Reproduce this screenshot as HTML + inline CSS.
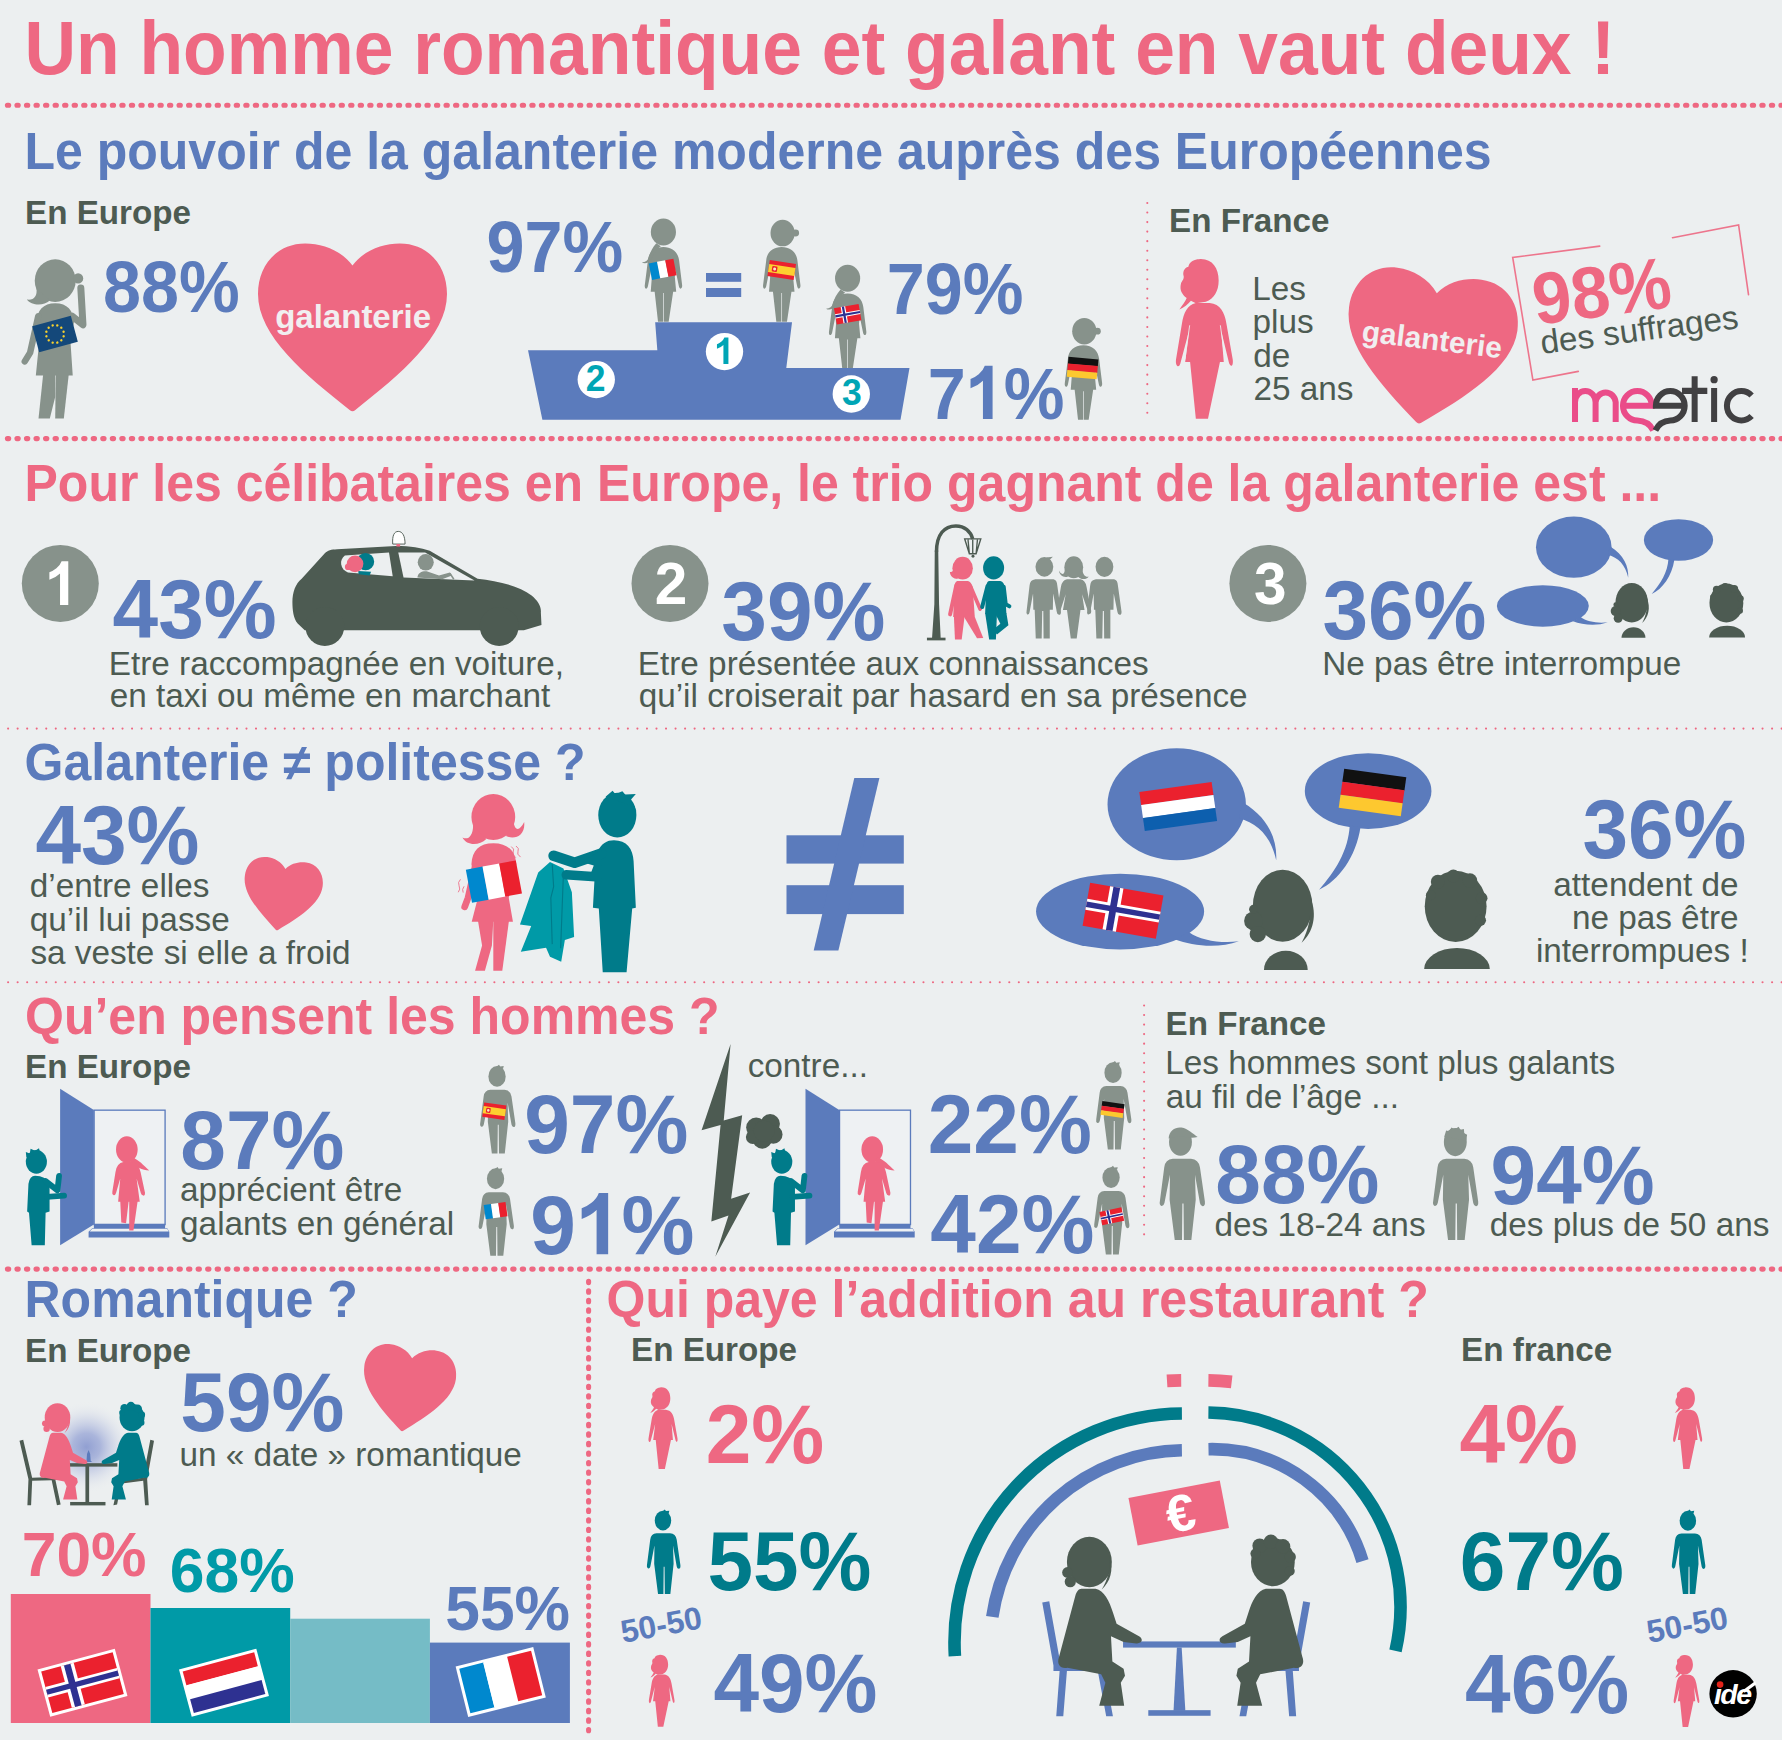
<!DOCTYPE html>
<html><head><meta charset="utf-8"><title>Un homme romantique et galant en vaut deux</title>
<style>
html,body{margin:0;padding:0;}
body{width:1782px;height:1740px;background:#eceff0;position:relative;overflow:hidden;font-family:"Liberation Sans",sans-serif;}
.t{position:absolute;line-height:1;white-space:nowrap;font-family:"Liberation Sans",sans-serif;}
svg.bg{position:absolute;left:0;top:0;}
</style></head><body>
<svg class="bg" width="1782" height="1740" viewBox="0 0 1782 1740">
<line x1="7.4" y1="105.3" x2="1790" y2="105.3" stroke="#ee6882" stroke-width="5.1" stroke-linecap="round" stroke-dasharray="1.3 8.235"/>
<line x1="7.4" y1="438.6" x2="1790" y2="438.6" stroke="#ee6882" stroke-width="5.1" stroke-linecap="round" stroke-dasharray="1.3 8.235"/>
<line x1="7.4" y1="1269.1" x2="1790" y2="1269.1" stroke="#ee6882" stroke-width="5.1" stroke-linecap="round" stroke-dasharray="1.3 8.235"/>
<line x1="8.1" y1="728.6" x2="1790" y2="728.6" stroke="#ee6882" stroke-width="2.1" stroke-linecap="round" stroke-dasharray="0.01 9.525"/>
<line x1="8.1" y1="982.3" x2="1790" y2="982.3" stroke="#ee6882" stroke-width="2.1" stroke-linecap="round" stroke-dasharray="0.01 9.525"/>
<line x1="1147.3" y1="203" x2="1147.3" y2="413.5" stroke="#ee6882" stroke-width="2.1" stroke-linecap="round" stroke-dasharray="0.01 9.525"/>
<line x1="1144.1" y1="1005.5" x2="1144.1" y2="1239" stroke="#ee6882" stroke-width="2.1" stroke-linecap="round" stroke-dasharray="0.01 9.525"/>
<line x1="588.6" y1="1281.3" x2="588.6" y2="1732" stroke="#ee6882" stroke-width="5.1" stroke-linecap="round" stroke-dasharray="1.3 8.235"/>
<rect x="10.8" y="1594" width="139.7" height="129" fill="#ee6882"/>
<rect x="150.5" y="1608" width="139.7" height="115" fill="#009aa7"/>
<rect x="290.2" y="1618.7" width="139.7" height="104.3" fill="#75bcc6"/>
<rect x="429.9" y="1642.6" width="140" height="80.4" fill="#5b7bbc"/>
<defs><g id="wA" transform="translate(-298,-995)"><ellipse cx="298" cy="195" rx="112" ry="120"/><path d="M 298,330 C 380,330 430,380 438,450 L 465,670 C 468,705 443,712 436,680 L 405,530 L 400,600 L 412,728 L 385,728 L 345,995 L 301,995 L 301,740 L 295,740 L 295,995 L 250,995 L 220,728 L 185,728 L 195,600 L 190,530 L 160,680 C 152,712 128,705 132,670 L 160,450 C 165,380 215,330 298,330 Z"/><path d="M 235,295 C 200,335 180,375 168,420 C 158,450 140,462 106,466 C 130,482 172,472 188,440 C 204,400 235,352 275,322 Z"/></g><g id="wB" transform="translate(-298,-995)"><ellipse cx="306" cy="205" rx="108" ry="118"/><circle cx="422" cy="205" r="31"/><path d="M 298,330 C 380,330 430,380 438,450 L 465,670 C 468,705 443,712 436,680 L 405,530 L 400,600 L 412,728 L 385,728 L 345,995 L 301,995 L 301,740 L 295,740 L 295,995 L 250,995 L 220,728 L 185,728 L 195,600 L 190,530 L 160,680 C 152,712 128,705 132,670 L 160,450 C 165,380 215,330 298,330 Z"/></g><g id="talk" transform="translate(1020,740) scale(0.29180)">
<g fill="#5b7bbc"><ellipse cx="537" cy="220" rx="237" ry="192"/><path d="M 765,215 C 850,265 882,340 878,412 C 860,330 815,285 750,268 Z"/>
<ellipse cx="1193" cy="175" rx="217" ry="130"/><path d="M 1167,298 C 1152,400 1092,482 1025,513 C 1080,450 1125,380 1130,293 Z"/>
<ellipse cx="343" cy="588" rx="288" ry="130"/><path d="M 578,658 C 620,688 690,698 750,690 C 680,716 590,706 532,684 Z"/></g>
<g fill="#4d5b52"><ellipse cx="900" cy="568" rx="102" ry="123"/><circle cx="800" cy="620" r="32"/><circle cx="815" cy="665" r="28"/><circle cx="800" cy="580" r="15"/>
<path d="M 995,540 C 1020,600 1005,660 965,695 C 990,650 1000,600 995,540 Z" /><path d="M 836,788 A 75,66 0 0 1 986,788 Z"/>
<ellipse cx="1493" cy="570" rx="106" ry="122"/><circle cx="1432" cy="486" r="24"/><circle cx="1485" cy="466" r="22"/><circle cx="1542" cy="482" r="25"/><circle cx="1582" cy="542" r="20"/><circle cx="1578" cy="618" r="19"/><circle cx="1408" cy="532" r="17"/>
<path d="M 1385,785 A 112,72 0 0 1 1610,785 Z"/></g></g><g id="man" transform="translate(-168,-682)"><ellipse cx="165" cy="165" rx="58" ry="70"/><path d="M 160,100 L 178,86 L 186,98 L 210,95 L 205,115 Z"/><path d="M 120,255 L 215,255 Q 255,258 262,300 L 288,480 Q 290,505 276,505 Q 265,503 262,488 L 236,340 L 240,470 L 217,682 L 178,682 L 176,490 L 170,490 L 168,682 L 130,682 L 103,470 L 105,340 L 76,488 Q 72,505 60,503 Q 48,498 52,478 L 75,300 Q 80,258 120,255 Z"/></g><g id="mancap" transform="translate(-168,-682)"><ellipse cx="160" cy="168" rx="60" ry="72"/><path d="M 98,150 C 100,105 135,88 165,92 C 200,98 225,125 250,142 C 215,150 180,140 150,138 Z"/><path d="M 120,255 L 215,255 Q 255,258 262,300 L 288,480 Q 290,505 276,505 Q 265,503 262,488 L 236,340 L 240,470 L 217,682 L 178,682 L 176,490 L 170,490 L 168,682 L 130,682 L 103,470 L 105,340 L 76,488 Q 72,505 60,503 Q 48,498 52,478 L 75,300 Q 80,258 120,255 Z"/></g><g id="manold" transform="translate(-168,-682)"><ellipse cx="168" cy="168" rx="60" ry="74"/><path d="M 110,140 L 120,108 L 135,112 L 148,92 L 165,102 L 185,88 L 195,104 L 213,100 L 215,122 L 230,130 L 225,160 Z"/><path d="M 120,255 L 215,255 Q 255,258 262,300 L 288,480 Q 290,505 276,505 Q 265,503 262,488 L 236,340 L 240,470 L 217,682 L 178,682 L 176,490 L 170,490 L 168,682 L 130,682 L 103,470 L 105,340 L 76,488 Q 72,505 60,503 Q 48,498 52,478 L 75,300 Q 80,258 120,255 Z"/></g><g id="door" transform="translate(10,1040) scale(0.26375)">
<rect x="319" y="266" width="269" height="434" fill="#eef1f3" stroke="#5b7bbc" stroke-width="5"/>
<path fill="#5b7bbc" d="M 190,185 L 318,265 L 318,700 L 190,778 Z"/>
<path fill="#5b7bbc" d="M 318,697 L 588,697 L 588,714 L 318,714 Z M 312,714 L 596,714 L 604,727 L 604,749 L 298,749 L 298,727 Z"/>
<path fill="#eef1f3" d="M 312,716 L 596,716 L 602,726 L 302,726 Z"/>
<g fill="#007b8a" stroke="#007b8a" stroke-linecap="round" stroke-linejoin="round">
<ellipse cx="100" cy="462" rx="40" ry="45" stroke="none"/><path stroke="none" d="M 62,445 L 60,425 L 75,430 L 78,412 L 95,420 L 110,410 L 115,430 Z"/>
<path stroke="none" d="M 95,515 Q 135,515 150,545 L 150,650 L 135,655 L 132,778 L 82,778 L 72,655 L 65,650 L 70,545 Q 75,515 95,515 Z"/>
<path fill="none" stroke-width="22" d="M 135,535 L 180,570 L 186,515"/><path fill="none" stroke-width="22" d="M 140,595 L 205,590"/>
</g>
<g fill="#ee6882" stroke="#ee6882" stroke-linecap="round" stroke-linejoin="round">
<ellipse cx="443" cy="415" rx="41" ry="50" stroke="none"/>
<path stroke="none" d="M 462,445 C 490,455 505,475 528,495 C 500,495 480,480 455,462 Z"/>
<path stroke="none" d="M 430,463 L 462,463 Q 488,468 495,500 L 512,580 Q 512,592 505,590 Q 498,588 496,580 L 480,525 L 492,613 L 410,613 L 418,525 L 402,580 Q 398,592 392,588 Q 386,584 388,575 L 400,500 Q 405,468 430,463 Z"/>
<path stroke="none" d="M 418,610 L 450,610 L 440,695 L 422,692 Z M 452,610 L 484,610 L 468,722 L 452,722 Z"/>
</g></g><radialGradient id="glow"><stop offset="0" stop-color="#8c9bd0" stop-opacity="0.95"/><stop offset="0.3" stop-color="#9aa7d6" stop-opacity="0.8"/><stop offset="0.6" stop-color="#b8c1e0" stop-opacity="0.45"/><stop offset="1" stop-color="#eceff0" stop-opacity="0"/></radialGradient><g id="pw" transform="translate(-120,-90)"><path d="M 230,90 C 290,85 322,130 322,190 C 322,240 300,275 262,290 L 215,297 L 192,285 C 178,302 160,316 138,326 C 152,305 165,290 172,272 C 150,255 138,235 145,205 C 150,190 160,185 158,170 C 152,150 160,130 180,125 C 185,100 210,90 230,90 Z"/>
<path d="M 215,295 L 280,295 C 330,300 350,340 358,390 L 388,560 C 392,592 378,600 370,575 L 334,425 L 346,572 L 328,572 L 272,838 L 215,838 L 188,572 L 165,572 L 183,425 L 142,580 C 135,602 118,592 122,560 L 150,390 C 158,340 175,305 215,295 Z"/></g></defs>
<path fill="#5b7bbc" transform="translate(965.74,419) scale(0.06830,-0.07240)" d="M 393,0 H 252 V 530 Q 175,458 70,423 V 551 Q 125,569 190,619 Q 255,669 279,736 H 393 Z"/>
<path fill="#5b7bbc" transform="translate(575.93,1254.2) scale(0.08200,-0.08323)" d="M 393,0 H 252 V 530 Q 175,458 70,423 V 551 Q 125,569 190,619 Q 255,669 279,736 H 393 Z"/>
<g transform="translate(0,230) scale(0.26936)" fill="#87928b" stroke="#87928b" stroke-linecap="round" stroke-linejoin="round">
<ellipse cx="205" cy="188" rx="76" ry="79" stroke="none"/>
<circle cx="290" cy="180" r="19" stroke="none"/>
<path stroke="none" d="M 135,215 C 140,245 125,262 100,258 C 115,280 160,285 185,262 Z"/>
<path stroke="none" d="M 205,272 C 250,272 272,300 275,340 L 262,420 L 270,540 L 133,540 L 145,420 L 135,340 C 138,300 160,272 205,272 Z"/>
<path fill="none" stroke-width="26" d="M 268,320 L 308,352 L 300,215"/>
<path fill="none" stroke-width="24" d="M 142,320 L 112,455 L 92,488"/>
<path stroke="none" d="M 160,538 L 205,538 L 205,620 L 185,700 L 143,700 Z"/>
<path stroke="none" d="M 207,538 L 255,538 L 237,700 L 205,700 Z"/>
</g>
<g transform="translate(55,334) rotate(-15)"><rect x="-20.0" y="-13.5" width="40" height="27" fill="#14487a"/><circle cx="0.00" cy="-8.91" r="1.21" fill="#f8d12e"/><circle cx="4.45" cy="-7.72" r="1.21" fill="#f8d12e"/><circle cx="7.72" cy="-4.46" r="1.21" fill="#f8d12e"/><circle cx="8.91" cy="-0.00" r="1.21" fill="#f8d12e"/><circle cx="7.72" cy="4.45" r="1.21" fill="#f8d12e"/><circle cx="4.45" cy="7.72" r="1.21" fill="#f8d12e"/><circle cx="0.00" cy="8.91" r="1.21" fill="#f8d12e"/><circle cx="-4.46" cy="7.72" r="1.21" fill="#f8d12e"/><circle cx="-7.72" cy="4.46" r="1.21" fill="#f8d12e"/><circle cx="-8.91" cy="0.00" r="1.21" fill="#f8d12e"/><circle cx="-7.72" cy="-4.46" r="1.21" fill="#f8d12e"/><circle cx="-4.46" cy="-7.72" r="1.21" fill="#f8d12e"/></g>
<path transform="translate(258,243.5) rotate(0 94.5 84.25) scale(189,168.5)" d="M .5,.13 C .56,.04 .66,0 .75,0 C .9,0 1,.13 1,.3 C 1,.55 .75,.78 .515,.988 Q .5,1.002 .485,.988 C .25,.78 0,.55 0,.3 C 0,.13 .1,0 .25,0 C .34,0 .44,.04 .5,.13 Z" fill="#ee6882"/>
<g transform="translate(500,200) scale(0.35920)"><path fill="#5b7bbc" d="M78,418 L438,418 L432,340 L813,340 L797,468 L1140,468 L1115,612 L118,612 Z"/><circle cx="625" cy="422" r="52" fill="#fff"/><circle cx="268" cy="500" r="52" fill="#fff"/><circle cx="978" cy="540" r="52" fill="#fff"/></g>
<path fill="#00a5b5" transform="translate(714.47,364) scale(0.03550,-0.03603)" d="M 393,0 H 252 V 530 Q 175,458 70,423 V 551 Q 125,569 190,619 Q 255,669 279,736 H 393 Z"/>
<rect x="706" y="273" width="35.2" height="8.8" fill="#5b7bbc"/><rect x="706" y="288" width="35.2" height="9" fill="#5b7bbc"/>
<use href="#wA" fill="#87928b" transform="translate(663.4,321.7) scale(0.11223)"/>
<use href="#wB" fill="#87928b" transform="translate(781.7,321.7) scale(0.11223)"/>
<use href="#wA" fill="#87928b" transform="translate(847.6,368.1) scale(0.11223)"/>
<use href="#wB" fill="#87928b" transform="translate(1083.4,419.8) scale(0.11223)"/>
<g transform="translate(662.7,269.3) rotate(-11)"><rect x="-12.5" y="-8.4" width="8.533333333333333" height="16.8" fill="#0088ce"/><rect x="-4.166666666666666" y="-8.4" width="8.533333333333333" height="16.8" fill="#fff"/><rect x="4.166666666666668" y="-8.4" width="8.333333333333334" height="16.8" fill="#eb212e"/></g>
<g transform="translate(781.7,270) rotate(8.5)"><rect x="-13.25" y="-8.15" width="26.5" height="16.3" fill="#eb212e"/><rect x="-13.25" y="-4.075" width="26.5" height="8.15" fill="#fdd02f"/><rect x="-9.805" y="-2.771" width="5.300000000000001" height="5.542000000000001" rx="0.978" fill="#eb212e"/><circle cx="-7.154999999999999" cy="0.0" r="1.467" fill="#fbe9c8"/></g>
<g transform="translate(847.7,314.2) rotate(-10)"><rect x="-12.5" y="-8.25" width="25" height="16.5" fill="#eb212e"/><rect x="-5.681818181818182" y="-8.25" width="4.545454545454546" height="16.5" fill="#fff"/><rect x="-12.5" y="-2.0625" width="25" height="4.125" fill="#fff"/><rect x="-4.545454545454546" y="-8.25" width="2.272727272727273" height="16.5" fill="#2e3191"/><rect x="-12.5" y="-1.03125" width="25" height="2.0625" fill="#2e3191"/></g>
<g transform="translate(1082.6,368.1) rotate(5)"><rect x="-15.0" y="-10.0" width="30" height="6.866666666666667" fill="#111"/><rect x="-15.0" y="-3.333333333333333" width="30" height="6.866666666666667" fill="#eb212e"/><rect x="-15.0" y="3.333333333333334" width="30" height="6.666666666666667" fill="#fdc82f"/></g>
<g transform="translate(1150,240) scale(0.21324)" fill="#ee6882">
<path d="M 230,90 C 290,85 322,130 322,190 C 322,240 300,275 262,290 L 215,297 L 192,285 C 178,302 160,316 138,326 C 152,305 165,290 172,272 C 150,255 138,235 145,205 C 150,190 160,185 158,170 C 152,150 160,130 180,125 C 185,100 210,90 230,90 Z"/>
<path d="M 215,295 L 280,295 C 330,300 350,340 358,390 L 388,560 C 392,592 378,600 370,575 L 334,425 L 346,572 L 328,572 L 272,838 L 215,838 L 188,572 L 165,572 L 183,425 L 142,580 C 135,602 118,592 122,560 L 150,390 C 158,340 175,305 215,295 Z"/>
<path d="M 186,400 L 164,560 M 330,400 L 352,560" stroke="#eceff0" stroke-width="4" fill="none"/>
</g>
<path transform="translate(1344,273) rotate(8 85.0 76.0) scale(170,152)" d="M .5,.13 C .56,.04 .66,0 .75,0 C .9,0 1,.13 1,.3 C 1,.55 .75,.78 .515,.988 Q .5,1.002 .485,.988 C .25,.78 0,.55 0,.3 C 0,.13 .1,0 .25,0 C .34,0 .44,.04 .5,.13 Z" fill="#ee6882"/>
<g fill="none" stroke="#ee6882" stroke-width="1.6" stroke-linecap="round" opacity="0.9"><path d="M1599.7,246.1 L1512.7,257.5 L1532.9,380.1 L1578.3,371.4"/><path d="M1672.5,237.7 L1738.6,225 L1748.5,294.7"/></g>
<g transform="translate(1500,210) scale(0.15825)" fill="none" stroke-width="38">
<path stroke="#ea4c89" d="M 474,1125 V 1340 M 474,1215 A 65,71 0 0 1 604,1215 V 1340 M 604,1215 A 64,71 0 0 1 731,1215 V 1340"/>
<path stroke="#ea4c89" d="M 778,1237 H 959 A 91,93 0 1 0 868,1330 C 920,1332 952,1360 968,1392"/>
<path stroke="#414042" d="M 1166,1237 H 985 A 91,93 0 1 1 1076,1330 C 1028,1332 998,1360 982,1392"/>
<path stroke="#414042" d="M 1230,1050 V 1340 M 1150,1143 H 1310 M 1353,1125 V 1340"/>
<circle cx="1353" cy="1072" r="23" fill="#414042" stroke="none"/>
<path stroke="#414042" d="M 1590,1172 A 91,93 0 1 0 1590,1302"/>
</g>
<circle cx="60.3" cy="583.4" r="38.5" fill="#87928b"/>
<circle cx="670" cy="583.4" r="38.5" fill="#87928b"/>
<circle cx="1267.9" cy="583.4" r="38.5" fill="#87928b"/>
<path fill="#fff" transform="translate(45.29,604.9) scale(0.05850,-0.05938)" d="M 393,0 H 252 V 530 Q 175,458 70,423 V 551 Q 125,569 190,619 Q 255,669 279,736 H 393 Z"/>
<g transform="translate(10,520) scale(0.30864)">
<path fill="#4d5b52" d="M 915,265 C 915,235 925,205 945,190 L 1020,108 C 1030,98 1040,96 1060,95 L 1250,84 C 1300,84 1330,90 1360,100 L 1515,190 C 1580,198 1650,212 1690,245 C 1710,262 1722,280 1720,300 L 1722,340 L 1665,357 L 955,357 L 932,335 C 918,320 915,290 915,265 Z"/>
<circle cx="1020" cy="345" r="63" fill="#4d5b52"/><circle cx="1585" cy="345" r="63" fill="#4d5b52"/>
<path fill="#eceff0" d="M 1085,115 L 1228,105 L 1240,182 L 1095,170 C 1070,160 1065,130 1085,115 Z"/>
<path fill="#eceff0" d="M 1258,105 L 1345,105 L 1505,196 L 1275,186 Z"/>
<circle cx="1152" cy="135" r="28" fill="#007b8a"/><path fill="#007b8a" d="M1128,165 L1170,168 L1165,180 L1130,176 Z"/>
<circle cx="1118" cy="142" r="27" fill="#ee6882"/><circle cx="1095" cy="152" r="10" fill="#ee6882"/>
<ellipse cx="1347" cy="137" rx="26" ry="27" fill="#87928b"/><path fill="#87928b" d="M 1320,186 C 1322,170 1335,165 1350,166 L 1390,180 L 1425,170 L 1432,180 L 1400,192 Z"/>
<path d="M 1425,172 L 1438,192" stroke="#87928b" stroke-width="5" fill="none"/>
<path d="M 1240,78 C 1238,50 1245,37 1258,37 C 1272,37 1280,52 1280,78 Z" fill="#fff" stroke="#4d5b52" stroke-width="3"/>
<rect x="1252" y="78" width="12" height="8" fill="#ee6882"/>
</g>
<g transform="translate(900,510) scale(0.13468)">
<g fill="#4d5b52"><rect x="200" y="948" width="138" height="20"/><path d="M 238,950 L 255,700 L 258,300 L 284,300 L 290,700 L 302,950 Z"/>
<path fill="none" stroke="#4d5b52" stroke-width="26" d="M 271,310 C 271,180 330,118 415,118 C 480,118 525,160 540,215"/>
<path fill="none" stroke="#4d5b52" stroke-width="10" d="M 480,214 L 600,214 L 565,325 L 515,325 Z M 515,325 L 505,220 M 540,325 L 540,220 M 565,325 L 575,220"/>
<circle cx="542" cy="343" r="11"/></g>
<g fill="#ee6882" stroke="#ee6882" stroke-linecap="round" stroke-linejoin="round">
<ellipse cx="465" cy="432" rx="76" ry="84" stroke="none"/><path stroke="none" d="M 395,440 C 395,460 380,462 370,458 C 372,490 395,510 430,512 Z"/>
<path stroke="none" d="M 425,528 L 505,528 Q 530,535 540,575 L 555,790 L 395,795 L 405,575 Q 405,535 425,528 Z"/>
<path fill="none" stroke-width="30" d="M 418,560 L 372,775"/><path fill="none" stroke-width="28" d="M 522,565 L 595,735"/>
<path stroke="none" d="M 400,785 L 480,785 L 458,962 L 408,962 Z"/><path stroke="none" d="M 470,785 L 552,785 L 618,950 L 572,952 Z"/></g>
<g fill="#007b8a" stroke="#007b8a" stroke-linecap="round" stroke-linejoin="round">
<ellipse cx="695" cy="430" rx="78" ry="86" stroke="none"/>
<path stroke="none" d="M 660,528 L 745,528 Q 775,535 778,580 L 790,770 L 632,770 L 640,580 Q 640,535 660,528 Z"/>
<path fill="none" stroke-width="30" d="M 650,565 L 610,720"/><path fill="none" stroke-width="30" d="M 770,570 L 785,700 L 812,715"/>
<path stroke="none" d="M 632,765 L 720,765 L 712,962 L 662,962 Z"/><path stroke="none" d="M 705,765 L 790,765 L 805,855 L 720,925 L 690,890 L 745,845 Z"/></g>
<g fill="#87928b">
<ellipse cx="1072" cy="422" rx="66" ry="73"/><path d="M1085,352 L1135,348 L1110,372 Z"/><path d="M 1005,515 L 1140,515 Q 1165,520 1168,560 L 1195,755 Q 1196,780 1180,778 Q 1168,776 1165,760 L 1137,620 L 1135,740 L 1112,740 L 1112,955 L 1066,955 L 1064,750 L 1056,750 L 1052,955 L 1008,955 L 1000,740 L 990,740 L 988,620 L 962,760 Q 958,780 945,776 Q 935,770 940,750 L 962,560 Q 965,520 1005,515 Z"/>
<g transform="translate(450,0)"><ellipse cx="1068" cy="422" rx="66" ry="75"/><path d="M 1005,515 L 1140,515 Q 1165,520 1168,560 L 1195,755 Q 1196,780 1180,778 Q 1168,776 1165,760 L 1137,620 L 1135,740 L 1112,740 L 1112,955 L 1066,955 L 1064,750 L 1056,750 L 1052,955 L 1008,955 L 1000,740 L 990,740 L 988,620 L 962,760 Q 958,780 945,776 Q 935,770 940,750 L 962,560 Q 965,520 1005,515 Z"/></g>
<ellipse cx="1290" cy="425" rx="70" ry="82"/>
<path d="M 1225,430 C 1225,480 1200,490 1180,450 C 1185,495 1230,512 1265,485 Z"/><path d="M 1352,430 C 1358,488 1380,500 1402,494 C 1380,522 1340,518 1315,490 Z"/>
<path d="M 1240,515 L 1340,515 Q 1375,520 1385,570 L 1420,750 Q 1420,775 1408,772 Q 1398,768 1395,750 L 1352,625 L 1370,742 L 1340,742 L 1312,955 L 1268,955 L 1240,742 L 1210,742 L 1230,625 L 1190,750 Q 1185,772 1172,770 Q 1162,765 1165,745 L 1195,570 Q 1205,520 1240,515 Z"/>
</g></g>
<use href="#talk" transform="translate(1573.8,547.2) scale(0.547) translate(-1176.7,-804.2)"/>
<use href="#talk"/>
<g transform="translate(1178.2,806.5) rotate(-8)"><rect x="-36.5" y="-19.7" width="73" height="13.333333333333332" fill="#eb212e"/><rect x="-36.5" y="-6.566666666666666" width="73" height="13.333333333333332" fill="#fff"/><rect x="-36.5" y="6.566666666666666" width="73" height="13.133333333333333" fill="#0d5fae"/></g>
<g transform="translate(1372.5,792.5) rotate(8)"><rect x="-31.35" y="-19.7" width="62.7" height="13.333333333333332" fill="#111"/><rect x="-31.35" y="-6.566666666666666" width="62.7" height="13.333333333333332" fill="#eb212e"/><rect x="-31.35" y="6.566666666666666" width="62.7" height="13.133333333333333" fill="#fdc82f"/></g>
<g transform="translate(1123,910.7) rotate(10)"><rect x="-37.2" y="-21.9" width="74.4" height="43.8" fill="#eb212e"/><rect x="-16.90909090909091" y="-21.9" width="13.52727272727273" height="43.8" fill="#fff"/><rect x="-37.2" y="-5.475000000000001" width="74.4" height="10.95" fill="#fff"/><rect x="-13.527272727272727" y="-21.9" width="6.763636363636365" height="43.8" fill="#2e3191"/><rect x="-37.2" y="-2.7375000000000007" width="74.4" height="5.475" fill="#2e3191"/></g>
<g fill="#5b7bbc"><rect x="786.5" y="835.3" width="117.3" height="28.3"/><rect x="786.5" y="885.2" width="117.3" height="28.9"/><path d="M 854.3,778 L 879.4,778 L 838.4,950.6 L 813.7,950.6 Z"/></g>
<path transform="translate(242.5,859.5) rotate(8 39.25 35.75) scale(78.5,71.5)" d="M .5,.13 C .56,.04 .66,0 .75,0 C .9,0 1,.13 1,.3 C 1,.55 .75,.78 .515,.988 Q .5,1.002 .485,.988 C .25,.78 0,.55 0,.3 C 0,.13 .1,0 .25,0 C .34,0 .44,.04 .5,.13 Z" fill="#ee6882"/>
<g transform="translate(440,780) scale(0.28058)">
<g fill="#ee6882" stroke="#ee6882" stroke-linecap="round">
<ellipse cx="190" cy="132" rx="78" ry="82" stroke="none"/>
<path stroke="none" d="M 118,160 C 118,200 100,215 80,205 C 95,235 140,235 165,210 Z"/><path stroke="none" d="M 262,150 C 268,185 285,180 300,150 C 305,195 270,215 235,200 Z"/>
<path stroke="none" d="M 190,225 C 240,225 268,250 272,300 L 245,420 L 260,505 L 113,505 L 135,420 L 112,300 C 115,250 140,225 190,225 Z"/>
<path fill="none" stroke-width="24" d="M 125,310 L 100,420 L 88,452"/>
<path stroke="none" d="M 135,500 L 190,500 L 185,590 L 160,680 L 125,680 L 150,590 Z"/><path stroke="none" d="M 190,500 L 246,500 L 222,680 L 190,680 Z"/>
<path fill="none" stroke-width="3" d="M 255,238 q 12,8 6,18 q -6,10 8,20 M 272,236 q 12,8 6,18 q -6,10 8,20 M 72,355 q -10,10 -4,22 q 6,12 -2,22 M 85,380 q -8,10 -3,20"/>
</g>
<path fill="#009aa7" d="M 392,292 L 350,330 L 285,515 L 325,520 L 288,612 L 378,598 L 392,630 L 432,648 L 445,570 L 478,560 L 470,400 L 440,315 Z"/>
<path fill="none" stroke="#007b8a" stroke-width="4" d="M 400,300 L 405,380 L 395,420 L 400,585 M 440,330 L 430,600"/>
<g fill="#007b8a" stroke="#007b8a" stroke-linecap="round" stroke-linejoin="round">
<ellipse cx="632" cy="125" rx="68" ry="80" stroke="none"/><path stroke="none" d="M 590,60 L 615,38 L 625,50 L 650,40 L 660,52 L 698,50 L 680,70 L 700,110 L 680,90 Z"/>
<path stroke="none" d="M 620,215 C 665,215 688,245 690,290 L 698,455 L 685,458 L 665,685 L 580,685 L 566,458 L 545,455 L 552,330 L 560,260 C 575,225 595,215 620,215 Z"/>
<path fill="none" stroke-width="38" d="M 575,262 L 480,295 L 405,270"/>
<path fill="none" stroke-width="34" d="M 555,345 L 450,338"/><path stroke="none" d="M 575,250 L 575,362 L 530,352 L 548,305 L 505,292 Z"/>
</g></g>
<g transform="translate(493.9,881.6) rotate(-10.5)"><rect x="-25.4" y="-16.85" width="17.133333333333333" height="33.7" fill="#0088ce"/><rect x="-8.466666666666665" y="-16.85" width="17.133333333333333" height="33.7" fill="#fff"/><rect x="8.466666666666669" y="-16.85" width="16.933333333333334" height="33.7" fill="#eb212e"/></g>
<use href="#mancap" fill="#87928b" transform="translate(1182,1240.1) scale(0.19080)"/>
<use href="#manold" fill="#87928b" transform="translate(1455.3,1240.1) scale(0.19080)"/>
<use href="#man" fill="#87928b" transform="translate(497.5,1153.4) scale(0.14883)"/>
<g transform="translate(494.3,1111.2) rotate(8)"><rect x="-11.2" y="-7.25" width="22.4" height="14.5" fill="#eb212e"/><rect x="-11.2" y="-3.625" width="22.4" height="7.25" fill="#fdd02f"/><rect x="-8.288" y="-2.465" width="4.4799999999999995" height="4.930000000000001" rx="0.87" fill="#eb212e"/><circle cx="-6.047999999999999" cy="0.0" r="1.305" fill="#fbe9c8"/></g>
<use href="#man" fill="#87928b" transform="translate(496,1255.7) scale(0.14883)"/>
<g transform="translate(495.6,1210.6) rotate(-8)"><rect x="-11.0" y="-7.25" width="7.533333333333333" height="14.5" fill="#0088ce"/><rect x="-3.666666666666667" y="-7.25" width="7.533333333333333" height="14.5" fill="#fff"/><rect x="3.666666666666666" y="-7.25" width="7.333333333333333" height="14.5" fill="#eb212e"/></g>
<use href="#man" fill="#87928b" transform="translate(1113.5,1149.6) scale(0.14883)"/>
<g transform="translate(1112.5,1109.5) rotate(8)"><rect x="-11.2" y="-7.0" width="22.4" height="4.866666666666667" fill="#111"/><rect x="-11.2" y="-2.333333333333333" width="22.4" height="4.866666666666667" fill="#eb212e"/><rect x="-11.2" y="2.333333333333334" width="22.4" height="4.666666666666667" fill="#fdc82f"/></g>
<use href="#man" fill="#87928b" transform="translate(1111.5,1254.5) scale(0.14883)"/>
<g transform="translate(1111.8,1216.3) rotate(-12)"><rect x="-11.2" y="-6.85" width="22.4" height="13.7" fill="#eb212e"/><rect x="-5.090909090909091" y="-6.85" width="4.072727272727272" height="13.7" fill="#fff"/><rect x="-11.2" y="-1.7125000000000004" width="22.4" height="3.425" fill="#fff"/><rect x="-4.072727272727273" y="-6.85" width="2.036363636363636" height="13.7" fill="#2e3191"/><rect x="-11.2" y="-0.8562500000000002" width="22.4" height="1.7125" fill="#2e3191"/></g>
<use href="#door"/>
<use href="#door" transform="translate(745.4,0)"/>
<g transform="translate(470,1040) scale(0.26375)" fill="#4d5b52">
<path d="M 988,15 L 878,342 L 950,322 L 915,688 L 980,665 L 930,822 L 1062,578 L 990,602 L 1032,285 L 962,305 Z"/>
<circle cx="1085" cy="332" r="38"/><circle cx="1138" cy="318" r="37"/><circle cx="1150" cy="358" r="35"/><circle cx="1108" cy="375" r="37"/><circle cx="1072" cy="368" r="26"/><circle cx="1115" cy="345" r="40"/>
</g>
<path transform="translate(361.5,1347) rotate(8 46.25 42.5) scale(92.5,85)" d="M .5,.13 C .56,.04 .66,0 .75,0 C .9,0 1,.13 1,.3 C 1,.55 .75,.78 .515,.988 Q .5,1.002 .485,.988 C .25,.78 0,.55 0,.3 C 0,.13 .1,0 .25,0 C .34,0 .44,.04 .5,.13 Z" fill="#ee6882"/>
<g transform="translate(82.5,1682.7) rotate(-15)"><rect x="-40.0" y="-24.5" width="80" height="49" fill="#fff"/><rect x="-37.0" y="-21.5" width="74" height="43" fill="#eb212e"/><rect x="-16.818181818181817" y="-21.5" width="13.454545454545455" height="43" fill="#fff"/><rect x="-37.0" y="-5.375" width="74" height="10.75" fill="#fff"/><rect x="-13.454545454545453" y="-21.5" width="6.7272727272727275" height="43" fill="#2e3191"/><rect x="-37.0" y="-2.6875" width="74" height="5.375" fill="#2e3191"/></g>
<g transform="translate(224,1682.7) rotate(-15)"><rect x="-40.0" y="-24.5" width="80" height="49" fill="#fff"/><rect x="-37.0" y="-21.5" width="74" height="14.533333333333333" fill="#eb212e"/><rect x="-37.0" y="-7.166666666666666" width="74" height="14.533333333333333" fill="#fff"/><rect x="-37.0" y="7.166666666666668" width="74" height="14.333333333333334" fill="#2e3191"/></g>
<g transform="translate(500.7,1682) rotate(-14)"><rect x="-40.0" y="-26.0" width="80" height="52" fill="#fff"/><rect x="-37.0" y="-23.0" width="24.866666666666667" height="46" fill="#0088ce"/><rect x="-12.333333333333332" y="-23.0" width="24.866666666666667" height="46" fill="#fff"/><rect x="12.333333333333336" y="-23.0" width="24.666666666666668" height="46" fill="#eb212e"/></g>
<path d="M 1181.9,1413.5 A 229,229 0 0 0 954.9,1656.1" fill="none" stroke="#007b8a" stroke-width="12.6"/>
<path d="M 1181.9,1450.3 A 194.7,194.7 0 0 0 992.3,1616.9" fill="none" stroke="#5b7bbc" stroke-width="12.6"/>
<path d="M 1181.2,1380.3 A 262.2,262.2 0 0 0 1167.0,1380.8" fill="none" stroke="#ee6882" stroke-width="12.8"/>
<path d="M 1208.4,1412.5 A 194.5,194.5 0 0 1 1395.5,1650.8" fill="none" stroke="#007b8a" stroke-width="12.6"/>
<path d="M 1208.5,1449.2 A 157.4,157.4 0 0 1 1362.5,1561.1" fill="none" stroke="#5b7bbc" stroke-width="12.6"/>
<path d="M 1208.4,1380.3 A 226.7,226.7 0 0 1 1231.7,1381.8" fill="none" stroke="#ee6882" stroke-width="12.8"/>
<g transform="translate(1178.7,1513) rotate(-10.9)"><rect x="-46.5" y="-24.2" width="93" height="48.4" fill="#ee6882"/></g>
<g transform="translate(930,1360) scale(0.28058)">
<g fill="#5b7bbc"><path d="M 400,864 L 425,860 L 468,1100 L 442,1100 Z M 440,1090 L 625,1090 L 625,1108 L 440,1108 Z M 462,1108 L 488,1108 L 475,1270 L 450,1270 Z M 598,1108 L 622,1108 L 652,1270 L 628,1270 Z"/><g transform="translate(1755,0) scale(-1,1)"><path d="M 400,864 L 425,860 L 468,1100 L 442,1100 Z M 440,1090 L 625,1090 L 625,1108 L 440,1108 Z M 462,1108 L 488,1108 L 475,1270 L 450,1270 Z M 598,1108 L 622,1108 L 652,1270 L 628,1270 Z"/></g>
<rect x="688" y="1003" width="402" height="22"/><path d="M 880,1025 L 897,1025 L 910,1250 L 868,1250 Z"/><rect x="778" y="1248" width="222" height="20"/></g>
<g fill="#4d5b52"><ellipse cx="568" cy="720" rx="80" ry="90"/><circle cx="490" cy="757" r="19"/><circle cx="500" cy="790" r="20"/><path d="M 640,700 C 656,750 642,790 612,818 C 634,782 645,742 640,700 Z"/><path d="M 540,815 L 590,815 C 620,820 640,860 652,900 L 665,940 L 745,985 C 762,995 756,1012 735,1010 L 690,1005 L 645,985 L 650,1075 L 690,1100 L 695,1125 L 680,1150 L 692,1232 L 603,1232 L 625,1150 L 610,1120 L 490,1097 C 465,1102 450,1085 460,1058 L 518,840 C 522,825 530,815 540,815 Z"/></g><g fill="#4d5b52"><ellipse cx="1222" cy="720" rx="78" ry="86"/><circle cx="1175" cy="662" r="26"/><circle cx="1215" cy="648" r="26"/><circle cx="1258" cy="664" r="26"/><circle cx="1284" cy="702" r="20"/><circle cx="1282" cy="752" r="18"/><circle cx="1160" cy="690" r="18"/><path transform="translate(1787,0) scale(-1,1)" d="M 540,815 L 590,815 C 620,820 640,860 652,900 L 665,940 L 745,985 C 762,995 756,1012 735,1010 L 690,1005 L 645,985 L 650,1075 L 690,1100 L 695,1125 L 680,1150 L 692,1232 L 603,1232 L 625,1150 L 610,1120 L 490,1097 C 465,1102 450,1085 460,1058 L 518,840 C 522,825 530,815 540,815 Z"/></g></g>
<circle cx="86.5" cy="1447" r="46" fill="url(#glow)"/>
<g transform="translate(10,1330) scale(0.26375)" fill="#4d5b52">
<path d="M 36,420 L 50,416 L 84,560 L 190,556 L 190,568 L 172,568 L 192,662 L 178,664 L 158,570 L 84,572 L 80,664 L 66,664 L 70,566 Z"/>
<path d="M 546,420 L 532,416 L 505,560 L 405,572 L 405,584 L 422,582 L 406,662 L 392,664 L 410,584 L 505,572 L 512,664 L 526,664 L 520,566 Z"/>
<rect x="195" y="505" width="212" height="13"/><rect x="286" y="515" width="14" height="140"/><rect x="228" y="652" width="134" height="13"/>
<path fill="#5b7bbc" d="M 290,497 L 292,470 L 298,455 L 304,470 L 306,497 L 312,500 L 284,500 Z"/>
</g>
<g transform="translate(57.5,1505.5) scale(0.15993) translate(-568,-1270)"><g fill="#ee6882"><ellipse cx="568" cy="720" rx="80" ry="90"/><circle cx="490" cy="757" r="19"/><circle cx="500" cy="790" r="20"/><path d="M 640,700 C 656,750 642,790 612,818 C 634,782 645,742 640,700 Z"/><path d="M 540,815 L 590,815 C 620,820 640,860 652,900 L 665,940 L 745,985 C 762,995 756,1012 735,1010 L 690,1005 L 645,985 L 650,1075 L 690,1100 L 695,1125 L 680,1150 L 692,1232 L 603,1232 L 625,1150 L 610,1120 L 490,1097 C 465,1102 450,1085 460,1058 L 518,840 C 522,825 530,815 540,815 Z"/></g></g>
<g transform="translate(132,1505.5) scale(0.15993) translate(-1222,-1270)"><g fill="#007b8a"><ellipse cx="1222" cy="720" rx="78" ry="86"/><circle cx="1175" cy="662" r="26"/><circle cx="1215" cy="648" r="26"/><circle cx="1258" cy="664" r="26"/><circle cx="1284" cy="702" r="20"/><circle cx="1282" cy="752" r="18"/><circle cx="1160" cy="690" r="18"/><path transform="translate(1787,0) scale(-1,1)" d="M 540,815 L 590,815 C 620,820 640,860 652,900 L 665,940 L 745,985 C 762,995 756,1012 735,1010 L 690,1005 L 645,985 L 650,1075 L 690,1100 L 695,1125 L 680,1150 L 692,1232 L 603,1232 L 625,1150 L 610,1120 L 490,1097 C 465,1102 450,1085 460,1058 L 518,840 C 522,825 530,815 540,815 Z"/></g></g>
<use href="#pw" fill="#ee6882" transform="translate(648.3,1387.4) scale(0.10897)"/>
<use href="#pw" fill="#ee6882" transform="translate(648.7,1654.9) scale(0.09617)"/>
<use href="#pw" fill="#ee6882" transform="translate(1672.9,1387.4) scale(0.10897)"/>
<use href="#pw" fill="#ee6882" transform="translate(1673.5,1655) scale(0.09617)"/>
<use href="#man" fill="#007b8a" transform="translate(663.4,1593.9) scale(0.14177)"/>
<use href="#man" fill="#007b8a" transform="translate(1688.3,1594) scale(0.14177)"/>
<circle cx="1733.1" cy="1693.8" r="23.7" fill="#000"/><path d="M 1742.8,1690.2 L 1755,1681.3 L 1756.4,1684.2 L 1744.6,1692.8 Z" fill="#fff"/><circle cx="1720.1" cy="1684.6" r="3.3" fill="#e2231a"/>
</svg>
<div class="t" style="left:24.5px;top:13.5px;font-size:71.4px;color:#ee6882;font-weight:bold;transform:scale(1.0,1.06);transform-origin:0 84.65%;">Un homme romantique et galant en vaut deux !</div>
<div class="t" style="left:24.5px;top:126.7px;font-size:50px;color:#5b7bbc;font-weight:bold;transform:scale(1.0,1.02);transform-origin:0 84.65%;">Le pouvoir de la galanterie moderne auprès des Européennes</div>
<div class="t" style="left:25.0px;top:195.9px;font-size:33.2px;color:#4d5b52;font-weight:bold;">En Europe</div>
<div class="t" style="left:103.1px;top:253.6px;font-size:68.3px;color:#5b7bbc;font-weight:bold;transform:scale(1.0,1.06);transform-origin:0 84.65%;">88%</div>
<div class="t" style="left:275.2px;top:299.6px;font-size:33px;color:#f1eef0;font-weight:bold;">galanterie</div>
<div class="t" style="left:486.5px;top:213.7px;font-size:68.3px;color:#5b7bbc;font-weight:bold;transform:scale(1.0,1.06);transform-origin:0 84.65%;">97%</div>
<div class="t" style="left:886.8px;top:256.2px;font-size:68.3px;color:#5b7bbc;font-weight:bold;transform:scale(1.0,1.06);transform-origin:0 84.65%;">79%</div>
<div class="t" style="left:927.8px;top:361.2px;font-size:68.3px;color:#5b7bbc;font-weight:bold;transform:scale(1,1.06);transform-origin:0 84.65%;">7</div>
<div class="t" style="left:1003.7px;top:361.2px;font-size:68.3px;color:#5b7bbc;font-weight:bold;transform:scale(1,1.06);transform-origin:0 84.65%;">%</div>
<div class="t" style="left:1169.0px;top:204.4px;font-size:33.2px;color:#4d5b52;font-weight:bold;">En France</div>
<div class="t" style="left:1252.3px;top:271.6px;font-size:33.3px;color:#4d5b52;font-weight:normal;">Les</div>
<div class="t" style="left:1252.5px;top:305.0px;font-size:33.3px;color:#4d5b52;font-weight:normal;">plus</div>
<div class="t" style="left:1253.2px;top:338.5px;font-size:33.3px;color:#4d5b52;font-weight:normal;">de</div>
<div class="t" style="left:1253.5px;top:371.9px;font-size:33.3px;color:#4d5b52;font-weight:normal;">25 ans</div>
<div class="t" style="left:24.5px;top:458.7px;font-size:50px;color:#ee6882;font-weight:bold;transform:scale(1.0,1.02);transform-origin:0 84.65%;">Pour les célibataires en Europe, le trio gagnant de la galanterie est ...</div>
<div class="t" style="left:112.6px;top:569.4px;font-size:82px;color:#5b7bbc;font-weight:bold;transform:scale(1.0,1.015);transform-origin:0 84.65%;">43%</div>
<div class="t" style="left:108.8px;top:646.6px;font-size:33.3px;color:#4d5b52;font-weight:normal;">Etre raccompagnée en voiture,</div>
<div class="t" style="left:109.7px;top:678.8px;font-size:33.3px;color:#4d5b52;font-weight:normal;">en taxi ou même en marchant</div>
<div class="t" style="left:721.3px;top:570.9px;font-size:82px;color:#5b7bbc;font-weight:bold;transform:scale(1.0,1.015);transform-origin:0 84.65%;">39%</div>
<div class="t" style="left:637.8px;top:646.6px;font-size:33.3px;color:#4d5b52;font-weight:normal;">Etre présentée aux connaissances</div>
<div class="t" style="left:638.7px;top:678.8px;font-size:33.3px;color:#4d5b52;font-weight:normal;">qu’il croiserait par hasard en sa présence</div>
<div class="t" style="left:1322.4px;top:569.9px;font-size:82px;color:#5b7bbc;font-weight:bold;transform:scale(1.0,1.015);transform-origin:0 84.65%;">36%</div>
<div class="t" style="left:1322.3px;top:646.6px;font-size:33.3px;color:#4d5b52;font-weight:normal;">Ne pas être interrompue</div>
<div class="t" style="left:24.6px;top:738.0px;font-size:50px;color:#5b7bbc;font-weight:bold;transform:scale(1.0,1.02);transform-origin:0 84.65%;">Galanterie ≠ politesse ?</div>
<div class="t" style="left:35.4px;top:795.4px;font-size:82px;color:#5b7bbc;font-weight:bold;transform:scale(1.0,1.015);transform-origin:0 84.65%;">43%</div>
<div class="t" style="left:29.8px;top:869.0px;font-size:33.3px;color:#4d5b52;font-weight:normal;">d’entre elles</div>
<div class="t" style="left:29.8px;top:902.6px;font-size:33.3px;color:#4d5b52;font-weight:normal;">qu’il lui passe</div>
<div class="t" style="left:30.4px;top:935.8px;font-size:33.3px;color:#4d5b52;font-weight:normal;">sa veste si elle a froid</div>
<div class="t" style="left:1582.4px;top:789.4px;font-size:82px;color:#5b7bbc;font-weight:bold;transform:scale(1.0,1.015);transform-origin:0 84.65%;">36%</div>
<div class="t" style="right:43.5px;top:868.0px;font-size:33.3px;color:#4d5b52;font-weight:normal;">attendent de</div>
<div class="t" style="right:43.5px;top:901.2px;font-size:33.3px;color:#4d5b52;font-weight:normal;">ne pas être</div>
<div class="t" style="right:33.3px;top:934.1px;font-size:33.3px;color:#4d5b52;font-weight:normal;">interrompues !</div>
<div class="t" style="left:25.0px;top:991.7px;font-size:50px;color:#ee6882;font-weight:bold;transform:scale(1.0,1.02);transform-origin:0 84.65%;">Qu’en pensent les hommes ?</div>
<div class="t" style="left:25.0px;top:1049.9px;font-size:33.2px;color:#4d5b52;font-weight:bold;">En Europe</div>
<div class="t" style="left:180.3px;top:1099.8px;font-size:82px;color:#5b7bbc;font-weight:bold;transform:scale(1.0,1.015);transform-origin:0 84.65%;">87%</div>
<div class="t" style="left:180.1px;top:1173.2px;font-size:33.3px;color:#4d5b52;font-weight:normal;">apprécient être</div>
<div class="t" style="left:180.1px;top:1207.0px;font-size:33.3px;color:#4d5b52;font-weight:normal;">galants en général</div>
<div class="t" style="left:524.2px;top:1084.0px;font-size:82px;color:#5b7bbc;font-weight:bold;transform:scale(1.0,1.015);transform-origin:0 84.65%;">97%</div>
<div class="t" style="left:530.3px;top:1184.8px;font-size:82px;color:#5b7bbc;font-weight:bold;transform:scale(1,1.015);transform-origin:0 84.65%;">9</div>
<div class="t" style="left:621.5px;top:1184.8px;font-size:82px;color:#5b7bbc;font-weight:bold;transform:scale(1,1.015);transform-origin:0 84.65%;">%</div>
<div class="t" style="left:747.7px;top:1048.7px;font-size:33.3px;color:#4d5b52;font-weight:normal;">contre...</div>
<div class="t" style="left:927.7px;top:1083.5px;font-size:82px;color:#5b7bbc;font-weight:bold;transform:scale(1.0,1.015);transform-origin:0 84.65%;">22%</div>
<div class="t" style="left:930.3px;top:1184.2px;font-size:82px;color:#5b7bbc;font-weight:bold;transform:scale(1.0,1.015);transform-origin:0 84.65%;">42%</div>
<div class="t" style="left:1165.5px;top:1007.4px;font-size:33.2px;color:#4d5b52;font-weight:bold;">En France</div>
<div class="t" style="left:1165.3px;top:1046.1px;font-size:33.3px;color:#4d5b52;font-weight:normal;">Les hommes sont plus galants</div>
<div class="t" style="left:1165.7px;top:1079.8px;font-size:33.3px;color:#4d5b52;font-weight:normal;">au fil de l’âge ...</div>
<div class="t" style="left:1215.3px;top:1134.1px;font-size:82px;color:#5b7bbc;font-weight:bold;transform:scale(1.0,1.015);transform-origin:0 84.65%;">88%</div>
<div class="t" style="left:1214.5px;top:1207.5px;font-size:33.3px;color:#4d5b52;font-weight:normal;">des 18-24 ans</div>
<div class="t" style="left:1490.6px;top:1134.5px;font-size:82px;color:#5b7bbc;font-weight:bold;transform:scale(1.0,1.015);transform-origin:0 84.65%;">94%</div>
<div class="t" style="left:1489.8px;top:1207.7px;font-size:33.3px;color:#4d5b52;font-weight:normal;">des plus de 50 ans</div>
<div class="t" style="left:24.5px;top:1275.2px;font-size:50px;color:#5b7bbc;font-weight:bold;transform:scale(1.0,1.02);transform-origin:0 84.65%;">Romantique ?</div>
<div class="t" style="left:25.0px;top:1333.9px;font-size:33.2px;color:#4d5b52;font-weight:bold;">En Europe</div>
<div class="t" style="left:180.3px;top:1361.9px;font-size:82px;color:#5b7bbc;font-weight:bold;transform:scale(1.0,1.015);transform-origin:0 84.65%;">59%</div>
<div class="t" style="left:179.4px;top:1437.6px;font-size:33.3px;color:#4d5b52;font-weight:normal;">un « date » romantique</div>
<div class="t" style="left:21.7px;top:1524.1px;font-size:62.4px;color:#ee6882;font-weight:bold;transform:scale(1.0,1.015);transform-origin:0 84.65%;">70%</div>
<div class="t" style="left:169.8px;top:1540.2px;font-size:62.4px;color:#009aa7;font-weight:bold;transform:scale(1.0,1.015);transform-origin:0 84.65%;">68%</div>
<div class="t" style="left:445.2px;top:1577.9px;font-size:62.4px;color:#5b7bbc;font-weight:bold;transform:scale(1.0,1.015);transform-origin:0 84.65%;">55%</div>
<div class="t" style="left:606.5px;top:1275.0px;font-size:50px;color:#ee6882;font-weight:bold;transform:scale(1.0,1.02);transform-origin:0 84.65%;">Qui paye l’addition au restaurant ?</div>
<div class="t" style="left:631.0px;top:1333.2px;font-size:33.2px;color:#4d5b52;font-weight:bold;">En Europe</div>
<div class="t" style="left:705.7px;top:1394.2px;font-size:82px;color:#ee6882;font-weight:bold;transform:scale(1.0,1.015);transform-origin:0 84.65%;">2%</div>
<div class="t" style="left:707.4px;top:1520.6px;font-size:82px;color:#007b8a;font-weight:bold;transform:scale(1.0,1.015);transform-origin:0 84.65%;">55%</div>
<div class="t" style="left:713.4px;top:1643.3px;font-size:82px;color:#5b7bbc;font-weight:bold;transform:scale(1.0,1.015);transform-origin:0 84.65%;">49%</div>
<div class="t" style="left:1461.0px;top:1333.2px;font-size:33.2px;color:#4d5b52;font-weight:bold;">En france</div>
<div class="t" style="left:1459.4px;top:1394.2px;font-size:82px;color:#ee6882;font-weight:bold;transform:scale(1.0,1.015);transform-origin:0 84.65%;">4%</div>
<div class="t" style="left:1459.8px;top:1520.7px;font-size:82px;color:#007b8a;font-weight:bold;transform:scale(1.0,1.015);transform-origin:0 84.65%;">67%</div>
<div class="t" style="left:1465.1px;top:1643.5px;font-size:82px;color:#5b7bbc;font-weight:bold;transform:scale(1.0,1.015);transform-origin:0 84.65%;">46%</div>
<div class="t" style="left:622.8px;top:1615.7px;font-size:32px;color:#5b7bbc;font-weight:bold;transform:rotate(-10.6deg) scale(1.0,1.0);transform-origin:0 84.65%;">50-50</div>
<div class="t" style="left:1648.5px;top:1616.2px;font-size:32px;color:#5b7bbc;font-weight:bold;transform:rotate(-10.6deg) scale(1.0,1.0);transform-origin:0 84.65%;">50-50</div>
<div class="t" style="left:585.8px;top:361.7px;font-size:35.5px;color:#00a5b5;font-weight:bold;transform:scale(1.0,1.015);transform-origin:0 84.65%;">2</div>
<div class="t" style="left:841.9px;top:376.2px;font-size:35.5px;color:#00a5b5;font-weight:bold;transform:scale(1.0,1.015);transform-origin:0 84.65%;">3</div>
<div class="t" style="left:1360.8px;top:315.7px;font-size:29.8px;color:#f1eef0;font-weight:bold;transform:rotate(7deg) scale(1.0,1.0);transform-origin:0 84.65%;">galanterie</div>
<div class="t" style="left:1535.9px;top:267.0px;font-size:69.5px;color:#ee6882;font-weight:bold;transform:rotate(-7.5deg) scale(1.0,1.05);transform-origin:0 84.65%;">98%</div>
<div class="t" style="left:1541.7px;top:325.8px;font-size:33.3px;color:#4d5b52;font-weight:normal;transform:rotate(-7.5deg) scale(1.0,1.0);transform-origin:0 84.65%;">des suffrages</div>
<div class="t" style="left:654.7px;top:555.2px;font-size:58.5px;color:#fff;font-weight:bold;transform:scale(1.0,1.015);transform-origin:0 84.65%;">2</div>
<div class="t" style="left:1254.1px;top:555.1px;font-size:58.5px;color:#fff;font-weight:bold;transform:scale(1.0,1.015);transform-origin:0 84.65%;">3</div>
<div class="t" style="left:1166.0px;top:1487.0px;font-size:52px;color:#fff;font-weight:bold;transform:rotate(-10.9deg);transform-origin:50% 50%;">€</div>
<div class="t" style="left:1714.0px;top:1679.6px;font-size:28.5px;color:#fff;font-weight:bold;font-style:italic;letter-spacing:-1.6px;">ıde</div>
</body></html>
